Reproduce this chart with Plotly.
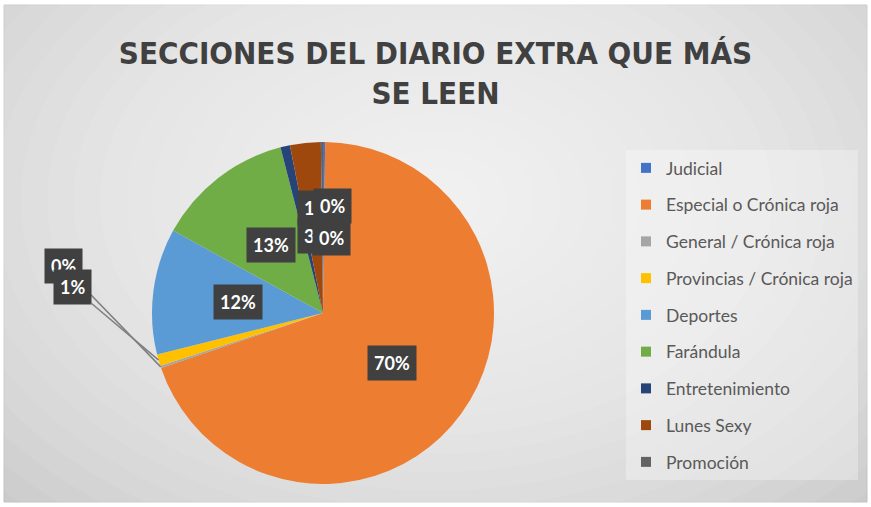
import math
import plotly.graph_objects as go

W, H = 871, 507

secciones = ["Judicial", "Especial o Crónica roja", "General / Crónica roja",
             "Provincias / Crónica roja", "Deportes", "Farándula",
             "Entretenimiento", "Lunes Sexy", "Promoción"]
porcentajes = [0.2, 69.6, 0.2, 1.1, 11.9, 13.0, 0.9, 2.9, 0.2]
colores = ["#4472C4", "#ED7D31", "#A5A5A5", "#FFC000", "#5B9BD5",
           "#70AD47", "#264478", "#9E480E", "#636363"]

# pie geometry in pixels
cx, cy, r = 323, 313, 171

# label nudges (px) for the crowded small slices, None = leader line label
nudges = [(9, -22), (0, 0), None, None, (0, 0), (0, 0), (12, -22), (2, 8), (9, 10)]
leader_text = {2: (63, 266), 3: (72, 287)}
draw_order = [1, 4, 5, 2, 3, 6, 7, 0, 8]

fig = go.Figure()

fig.add_trace(go.Pie(
    labels=secciones, values=porcentajes,
    marker=dict(colors=colores, line=dict(width=0)),
    sort=False, direction="clockwise", rotation=0,
    textinfo="none", hoverinfo="label+percent",
    showlegend=False,
    domain=dict(x=[(cx - r) / W, (cx + r) / W], y=[1 - (cy + r) / H, 1 - (cy - r) / H]),
))

# legend entries, one group each so the spacing matches
for name, col in zip(secciones, colores):
    fig.add_trace(go.Scatter(
        x=[None], y=[None], mode="markers", name=name, legendgroup=name,
        marker=dict(symbol="square", size=10, color=col),
    ))

total = sum(porcentajes)
mids = []
acc = 0
for v in porcentajes:
    mids.append((acc + v / 2) / total * 2 * math.pi)
    acc += v

label_font = dict(family="Lato", size=18, color="white")
annotations = []
for i in draw_order:
    txt = f"<b>{round(porcentajes[i] / total * 100)}%</b>"
    th = mids[i]
    if nudges[i] is None:
        px = cx + r * math.sin(th)
        py = cy - r * math.cos(th)
        tx, ty = leader_text[i]
        annotations.append(dict(
            x=px / W, y=1 - py / H, xref="paper", yref="paper",
            ax=tx - px, ay=ty - py, showarrow=True, arrowhead=0,
            arrowwidth=1.5, arrowcolor="#7f7f7f",
            text=txt, font=label_font, bgcolor="#404040", borderpad=6,
        ))
    else:
        dx, dy = nudges[i]
        px = cx + 0.5 * r * math.sin(th) + dx
        py = cy - 0.5 * r * math.cos(th) + dy
        annotations.append(dict(
            x=px / W, y=1 - py / H, xref="paper", yref="paper", showarrow=False,
            xanchor="center", yanchor="middle",
            text=txt, font=label_font, bgcolor="#404040", borderpad=6,
        ))

# frame and soft radial background
shapes = [dict(type="rect", xref="paper", yref="paper", x0=4 / W, x1=867 / W,
               y0=1 - 502 / H, y1=1 - 5 / H, fillcolor="#cbcbcb",
               line=dict(color="#c0c0c0", width=1), layer="below")]
for k in range(22):
    s = 1 - k * 0.044
    shapes.append(dict(type="circle", xref="paper", yref="paper",
                       x0=(436 - 600 * s) / W, x1=(436 + 600 * s) / W,
                       y0=1 - (200 + 420 * s) / H, y1=1 - (200 - 420 * s) / H,
                       fillcolor="white", opacity=0.07, line=dict(width=0), layer="below"))

fig.update_layout(
    width=W, height=H,
    margin=dict(l=0, r=0, t=0, b=0),
    paper_bgcolor="white", plot_bgcolor="rgba(0,0,0,0)",
    xaxis=dict(visible=False, range=[0, 1], fixedrange=True),
    yaxis=dict(visible=False, range=[0, 1], fixedrange=True),
    title=dict(text="<b>SECCIONES DEL DIARIO EXTRA QUE MÁS<br>SE LEEN</b>",
               x=0.5, xanchor="center", y=1 - 64 / H, yanchor="middle",
               font=dict(family="DejaVu Sans Condensed", size=31, color="#404040")),
    legend=dict(x=626 / W, y=1 - 150 / H, xanchor="left", yanchor="top",
                bgcolor="rgba(255,255,255,0.3)", tracegroupgap=11,
                font=dict(family="Lato", size=17.5, color="#595959"),
                itemsizing="trace"),
    shapes=shapes,
    annotations=annotations,
)

fig.write_html("out.html", config={"displayModeBar": False},
               post_script="document.body.style.margin='0';")
